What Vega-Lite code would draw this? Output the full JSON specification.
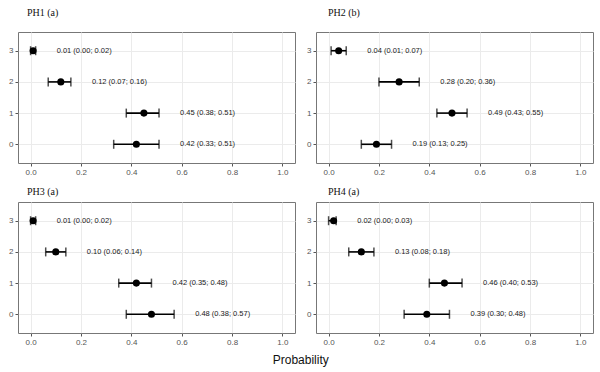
{
  "$schema": "https://vega.github.io/schema/vega-lite/v6.json",
  "padding": {"left": 8, "top": 7, "right": 5, "bottom": 3},
  "background": "white",
  "title": {"text": "Probability", "orient": "bottom", "anchor": "middle", "font": "Liberation Sans", "fontSize": 12, "fontWeight": "normal", "color": "#111", "offset": 8},
  "data": {"values": [
    {"panel": "PH1", "cat": 3, "est": 0.01, "lo": 0.00, "hi": 0.02, "label": "0.01 (0.00; 0.02)"},
    {"panel": "PH1", "cat": 2, "est": 0.12, "lo": 0.07, "hi": 0.16, "label": "0.12 (0.07; 0.16)"},
    {"panel": "PH1", "cat": 1, "est": 0.45, "lo": 0.38, "hi": 0.51, "label": "0.45 (0.38; 0.51)"},
    {"panel": "PH1", "cat": 0, "est": 0.42, "lo": 0.33, "hi": 0.51, "label": "0.42 (0.33; 0.51)"},
    {"panel": "PH2", "cat": 3, "est": 0.04, "lo": 0.01, "hi": 0.07, "label": "0.04 (0.01; 0.07)"},
    {"panel": "PH2", "cat": 2, "est": 0.28, "lo": 0.20, "hi": 0.36, "label": "0.28 (0.20; 0.36)"},
    {"panel": "PH2", "cat": 1, "est": 0.49, "lo": 0.43, "hi": 0.55, "label": "0.49 (0.43; 0.55)"},
    {"panel": "PH2", "cat": 0, "est": 0.19, "lo": 0.13, "hi": 0.25, "label": "0.19 (0.13; 0.25)"},
    {"panel": "PH3", "cat": 3, "est": 0.01, "lo": 0.00, "hi": 0.02, "label": "0.01 (0.00; 0.02)"},
    {"panel": "PH3", "cat": 2, "est": 0.10, "lo": 0.06, "hi": 0.14, "label": "0.10 (0.06; 0.14)"},
    {"panel": "PH3", "cat": 1, "est": 0.42, "lo": 0.35, "hi": 0.48, "label": "0.42 (0.35; 0.48)"},
    {"panel": "PH3", "cat": 0, "est": 0.48, "lo": 0.38, "hi": 0.57, "label": "0.48 (0.38; 0.57)"},
    {"panel": "PH4", "cat": 3, "est": 0.02, "lo": 0.00, "hi": 0.03, "label": "0.02 (0.00; 0.03)"},
    {"panel": "PH4", "cat": 2, "est": 0.13, "lo": 0.08, "hi": 0.18, "label": "0.13 (0.08; 0.18)"},
    {"panel": "PH4", "cat": 1, "est": 0.46, "lo": 0.40, "hi": 0.53, "label": "0.46 (0.40; 0.53)"},
    {"panel": "PH4", "cat": 0, "est": 0.39, "lo": 0.30, "hi": 0.48, "label": "0.39 (0.30; 0.48)"}
  ]},
  "columns": 2,
  "spacing": {"row": 9, "column": 10},
  "concat": [
    {
      "title": {"text": "PH1 (a)", "anchor": "start", "frame": "group", "dx": 9, "offset": 14, "font": "Liberation Serif", "fontWeight": "normal", "fontSize": 10, "color": "#111"},
      "width": 277, "height": 131,
      "transform": [{"filter": "datum.panel == 'PH1'"}],
      "encoding": {
        "y": {"field": "cat", "type": "ordinal", "sort": "descending", "scale": {"type": "point", "padding": 0.6}, "title": null}
      },
      "layer": [
        {"mark": {"type": "rule", "color": "black", "strokeWidth": 1.6},
         "encoding": {"x": {"field": "lo", "type": "quantitative", "scale": {"domain": [-0.05, 1.05], "nice": false, "zero": false}, "title": null,
            "axis": {"values": [0, 0.1, 0.2, 0.3, 0.4, 0.5, 0.6, 0.7, 0.8, 0.9, 1.0], "labelExpr": "round(datum.value*10)%2==0 ? format(datum.value,'.1f') : ''",
                     "tickOpacity": {"condition": {"test": "round(datum.value*10)%2==1", "value": 0}, "value": 1},
                     "gridWidth": {"condition": {"test": "round(datum.value*10)%2==1", "value": 0.5}, "value": 1}}},
                      "x2": {"field": "hi"}}},
        {"mark": {"type": "tick", "orient": "vertical", "size": 9, "thickness": 1.5, "color": "black"},
         "encoding": {"x": {"field": "lo", "type": "quantitative"}}},
        {"mark": {"type": "tick", "orient": "vertical", "size": 9, "thickness": 1.5, "color": "black"},
         "encoding": {"x": {"field": "hi", "type": "quantitative"}}},
        {"mark": {"type": "point", "filled": true, "size": 50, "color": "black", "opacity": 1},
         "encoding": {"x": {"field": "est", "type": "quantitative"}}},
        {"mark": {"type": "text", "align": "left", "dx": 21, "fontSize": 7.5, "font": "Liberation Sans", "color": "#222"},
         "encoding": {"x": {"field": "hi", "type": "quantitative"}, "text": {"field": "label"}}}
      ]
    },
    {
      "title": {"text": "PH2 (b)", "anchor": "start", "frame": "group", "dx": 12, "offset": 14, "font": "Liberation Serif", "fontWeight": "normal", "fontSize": 10, "color": "#111"},
      "width": 277, "height": 131,
      "transform": [{"filter": "datum.panel == 'PH2'"}],
      "encoding": {
        "y": {"field": "cat", "type": "ordinal", "sort": "descending", "scale": {"type": "point", "padding": 0.6}, "title": null}
      },
      "layer": [
        {"mark": {"type": "rule", "color": "black", "strokeWidth": 1.6},
         "encoding": {"x": {"field": "lo", "type": "quantitative", "scale": {"domain": [-0.05, 1.05], "nice": false, "zero": false}, "title": null,
            "axis": {"values": [0, 0.1, 0.2, 0.3, 0.4, 0.5, 0.6, 0.7, 0.8, 0.9, 1.0], "labelExpr": "round(datum.value*10)%2==0 ? format(datum.value,'.1f') : ''",
                     "tickOpacity": {"condition": {"test": "round(datum.value*10)%2==1", "value": 0}, "value": 1},
                     "gridWidth": {"condition": {"test": "round(datum.value*10)%2==1", "value": 0.5}, "value": 1}}},
                      "x2": {"field": "hi"}}},
        {"mark": {"type": "tick", "orient": "vertical", "size": 9, "thickness": 1.5, "color": "black"},
         "encoding": {"x": {"field": "lo", "type": "quantitative"}}},
        {"mark": {"type": "tick", "orient": "vertical", "size": 9, "thickness": 1.5, "color": "black"},
         "encoding": {"x": {"field": "hi", "type": "quantitative"}}},
        {"mark": {"type": "point", "filled": true, "size": 50, "color": "black", "opacity": 1},
         "encoding": {"x": {"field": "est", "type": "quantitative"}}},
        {"mark": {"type": "text", "align": "left", "dx": 21, "fontSize": 7.5, "font": "Liberation Sans", "color": "#222"},
         "encoding": {"x": {"field": "hi", "type": "quantitative"}, "text": {"field": "label"}}}
      ]
    },
    {
      "title": {"text": "PH3 (a)", "anchor": "start", "frame": "group", "dx": 9, "offset": 5, "font": "Liberation Serif", "fontWeight": "normal", "fontSize": 10, "color": "#111"},
      "width": 277, "height": 131,
      "transform": [{"filter": "datum.panel == 'PH3'"}],
      "encoding": {
        "y": {"field": "cat", "type": "ordinal", "sort": "descending", "scale": {"type": "point", "padding": 0.6}, "title": null}
      },
      "layer": [
        {"mark": {"type": "rule", "color": "black", "strokeWidth": 1.6},
         "encoding": {"x": {"field": "lo", "type": "quantitative", "scale": {"domain": [-0.05, 1.05], "nice": false, "zero": false}, "title": null,
            "axis": {"values": [0, 0.1, 0.2, 0.3, 0.4, 0.5, 0.6, 0.7, 0.8, 0.9, 1.0], "labelExpr": "round(datum.value*10)%2==0 ? format(datum.value,'.1f') : ''",
                     "tickOpacity": {"condition": {"test": "round(datum.value*10)%2==1", "value": 0}, "value": 1},
                     "gridWidth": {"condition": {"test": "round(datum.value*10)%2==1", "value": 0.5}, "value": 1}}},
                      "x2": {"field": "hi"}}},
        {"mark": {"type": "tick", "orient": "vertical", "size": 9, "thickness": 1.5, "color": "black"},
         "encoding": {"x": {"field": "lo", "type": "quantitative"}}},
        {"mark": {"type": "tick", "orient": "vertical", "size": 9, "thickness": 1.5, "color": "black"},
         "encoding": {"x": {"field": "hi", "type": "quantitative"}}},
        {"mark": {"type": "point", "filled": true, "size": 50, "color": "black", "opacity": 1},
         "encoding": {"x": {"field": "est", "type": "quantitative"}}},
        {"mark": {"type": "text", "align": "left", "dx": 21, "fontSize": 7.5, "font": "Liberation Sans", "color": "#222"},
         "encoding": {"x": {"field": "hi", "type": "quantitative"}, "text": {"field": "label"}}}
      ]
    },
    {
      "title": {"text": "PH4 (a)", "anchor": "start", "frame": "group", "dx": 12, "offset": 5, "font": "Liberation Serif", "fontWeight": "normal", "fontSize": 10, "color": "#111"},
      "width": 277, "height": 131,
      "transform": [{"filter": "datum.panel == 'PH4'"}],
      "encoding": {
        "y": {"field": "cat", "type": "ordinal", "sort": "descending", "scale": {"type": "point", "padding": 0.6}, "title": null}
      },
      "layer": [
        {"mark": {"type": "rule", "color": "black", "strokeWidth": 1.6},
         "encoding": {"x": {"field": "lo", "type": "quantitative", "scale": {"domain": [-0.05, 1.05], "nice": false, "zero": false}, "title": null,
            "axis": {"values": [0, 0.1, 0.2, 0.3, 0.4, 0.5, 0.6, 0.7, 0.8, 0.9, 1.0], "labelExpr": "round(datum.value*10)%2==0 ? format(datum.value,'.1f') : ''",
                     "tickOpacity": {"condition": {"test": "round(datum.value*10)%2==1", "value": 0}, "value": 1},
                     "gridWidth": {"condition": {"test": "round(datum.value*10)%2==1", "value": 0.5}, "value": 1}}},
                      "x2": {"field": "hi"}}},
        {"mark": {"type": "tick", "orient": "vertical", "size": 9, "thickness": 1.5, "color": "black"},
         "encoding": {"x": {"field": "lo", "type": "quantitative"}}},
        {"mark": {"type": "tick", "orient": "vertical", "size": 9, "thickness": 1.5, "color": "black"},
         "encoding": {"x": {"field": "hi", "type": "quantitative"}}},
        {"mark": {"type": "point", "filled": true, "size": 50, "color": "black", "opacity": 1},
         "encoding": {"x": {"field": "est", "type": "quantitative"}}},
        {"mark": {"type": "text", "align": "left", "dx": 21, "fontSize": 7.5, "font": "Liberation Sans", "color": "#222"},
         "encoding": {"x": {"field": "hi", "type": "quantitative"}, "text": {"field": "label"}}}
      ]
    }
  ],
  "config": {
    "view": {"stroke": "#777", "strokeWidth": 1},
    "title": {"font": "Liberation Serif", "fontSize": 10, "fontWeight": "normal", "color": "#111"},
    "axis": {"labelFont": "Liberation Sans", "labelFontSize": 8, "labelColor": "#555", "tickColor": "#555", "tickSize": 3, "labelPadding": 2, "domain": false, "grid": true, "gridColor": "#ebebeb"},
    "axisY": {"labelAngle": 0}
  }
}
